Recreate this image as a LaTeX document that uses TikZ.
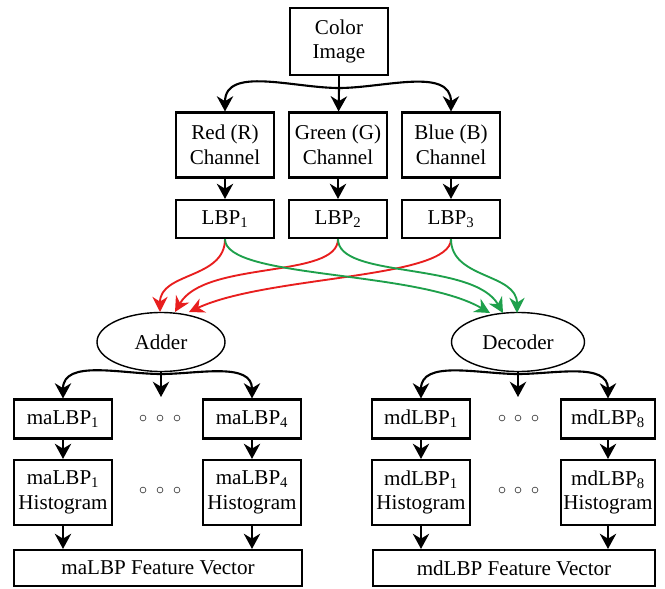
\documentclass[tikz,border=0pt]{standalone}
\usepackage{fontspec}
\setmainfont{Liberation Serif}
\usetikzlibrary{arrows.meta,shapes.geometric}
\definecolor{lbpred}{RGB}{232,30,30}
\definecolor{lbpgreen}{RGB}{30,160,75}
\tikzstyle{box}=[draw,line width=1.8pt,inner sep=0pt,align=center,minimum width=2.94cm,font=\fontsize{18}{21}\selectfont]
\tikzstyle{oval}=[draw,ellipse,line width=1.2pt,inner sep=0pt,minimum height=1.77cm,font=\fontsize{18}{21}\selectfont]
\tikzstyle{arr}=[line width=1.8pt,-{Stealth[length=13pt,width=14pt]}]
\tikzstyle{rarr}=[line width=1.6pt,lbpred,-{Stealth[length=13pt,width=13pt]}]
\tikzstyle{garr}=[line width=1.6pt,lbpgreen,-{Stealth[length=13pt,width=13pt]}]
\tikzstyle{dot}=[draw=black!70,circle,line width=0.6pt,inner sep=0pt,minimum size=5pt]

\begin{document}
\begin{tikzpicture}[x=0.03cm,y=-0.03cm]
\useasboundingbox (0,0) rectangle (665,589);
% top part
\node[box,minimum height=2.01cm] (ci) at (339,41.5) {Color\\Image};
\node[box,minimum height=1.95cm] (rc) at (225,145) {Red (R)\\Channel};
\node[box,minimum height=1.95cm] (gc) at (338,145) {Green (G)\\Channel};
\node[box,minimum height=1.95cm] (bc) at (451,145) {Blue (B)\\Channel};
\node[box,minimum height=1.14cm] (l1) at (225,219) {LBP\textsubscript{1}};
\node[box,minimum height=1.14cm] (l2) at (338,219) {LBP\textsubscript{2}};
\node[box,minimum height=1.14cm] (l3) at (451,219) {LBP\textsubscript{3}};
\coordinate (j0) at (339,88);
\draw[line width=1.8pt] (ci) -- (j0);
\draw[arr] (j0) -- (gc);
\draw[arr] (j0) to[out=180,in=90] (rc);
\draw[arr] (j0) to[out=0,in=90] (bc);
\draw[arr] (rc) -- (l1);
\draw[arr] (gc) -- (l2);
\draw[arr] (bc) -- (l3);
% adder and decoder
\node[oval,minimum width=3.84cm] (add) at (161,342) {Adder};
\node[oval,minimum width=3.99cm] (dec) at (518,342) {Decoder};
\coordinate (a1) at (160,312);
\coordinate (a2) at (175,312);
\coordinate (a3) at (189,312);
\coordinate (d1) at (490,313);
\coordinate (d2) at (503,313);
\coordinate (d3) at (517,313);
\draw[rarr] (l1.south) .. controls +(-90:1.2cm) and +(90:1.2cm) .. (a1);
\draw[rarr] (l2.south) .. controls +(-90:1.2cm) and +(60:1.8cm) .. (a2);
\draw[rarr] (l3.south) .. controls +(-90:1.2cm) and +(25:2.6cm) .. (a3);
\draw[garr] (l1.south) .. controls +(-90:1.2cm) and +(150:2.6cm) .. (d1);
\draw[garr] (l2.south) .. controls +(-90:1.2cm) and +(120:1.8cm) .. (d2);
\draw[garr] (l3.south) .. controls +(-90:1.2cm) and +(90:1.2cm) .. (d3);
% maLBP side
\node[box,minimum height=1.17cm] (ma1) at (63,419) {maLBP\textsubscript{1}};
\node[box,minimum height=1.17cm] (ma4) at (252,419) {maLBP\textsubscript{4}};
\node[box,minimum height=1.95cm] (mh1) at (63,492.5) {maLBP\textsubscript{1}\\Histogram};
\node[box,minimum height=1.95cm] (mh4) at (252,492.5) {maLBP\textsubscript{4}\\Histogram};
\node[box,minimum width=8.64cm,minimum height=1.08cm] (mav) at (158,568) {maLBP Feature Vector};
\coordinate (ja) at (161,374);
\coordinate (ma) at (161,397);
\draw[arr] (add.south) -- (ma);
\draw[arr] (ja) to[out=180,in=90] (ma1);
\draw[arr] (ja) to[out=0,in=90] (ma4);
\draw[arr] (ma1) -- (mh1);
\draw[arr] (ma4) -- (mh4);
\draw[arr] (mh1) -- (mh1 |- mav.north);
\draw[arr] (mh4) -- (mh4 |- mav.north);
% mdLBP side
\node[box,minimum height=1.17cm] (md1) at (421,419) {mdLBP\textsubscript{1}};
\node[box,minimum width=2.82cm,minimum height=1.17cm] (md8) at (608,419) {mdLBP\textsubscript{8}};
\node[box,minimum height=1.95cm] (dh1) at (421,492.5) {mdLBP\textsubscript{1}\\Histogram};
\node[box,minimum width=2.82cm,minimum height=1.95cm] (dh8) at (608,492.5) {mdLBP\textsubscript{8}\\Histogram};
\node[box,minimum width=8.46cm,minimum height=1.08cm] (mdv) at (514,568) {mdLBP Feature Vector};
\coordinate (jd) at (518,374);
\coordinate (md) at (518,397);
\draw[arr] (dec.south) -- (md);
\draw[arr] (jd) to[out=180,in=90] (md1);
\draw[arr] (jd) to[out=0,in=90] (md8);
\draw[arr] (md1) -- (dh1);
\draw[arr] (md8) -- (dh8);
\draw[arr] (dh1) -- (dh1 |- mdv.north);
\draw[arr] (dh8) -- (dh8 |- mdv.north);
% dots
\foreach \x/\n in {143/a,160/b,177/c,502/d,518/e,535/f}{
  \node[dot] (u\n) at (\x,418) {};
  \node[dot] (v\n) at (\x,490) {};
}
\end{tikzpicture}
\end{document}
